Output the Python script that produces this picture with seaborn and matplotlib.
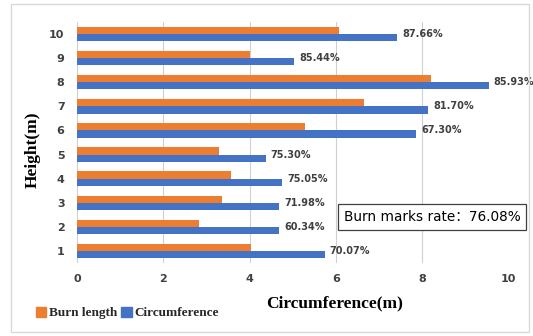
import matplotlib
matplotlib.use("Agg")
import matplotlib.pyplot as plt
import matplotlib.patches as mpatches
import seaborn as sns
import pandas as pd

heights = ["10", "9", "8", "7", "6", "5", "4", "3", "2", "1"]
burn_length = [6.07, 4.02, 8.21, 6.65, 5.29, 3.29, 3.57, 3.37, 2.82, 4.03]
circumference = [7.42, 5.03, 9.54, 8.14, 7.86, 4.37, 4.75, 4.69, 4.69, 5.74]
rates = ["87.66%", "85.44%", "85.93%", "81.70%", "67.30%", "75.30%", "75.05%", "71.98%", "60.34%", "70.07%"]
series = ["Burn length", "Circumference"]
colors = ["#ED7D31", "#4472C4"]
x_ticks = [0, 2, 4, 6, 8, 10]
overall = "Burn marks rate\uff1a76.08%"

df = pd.DataFrame({
    "Height": heights * 2,
    "Value": burn_length + circumference,
    "Series": [series[0]] * len(heights) + [series[1]] * len(heights),
})

sns.set_theme(style="white")
fig = plt.figure(figsize=(5.33, 3.36), dpi=100)
ax = fig.add_axes([77 / 533, (336 - 263) / 336, 431.5 / 533, 241 / 336])

sns.barplot(data=df, y="Height", x="Value", hue="Series", order=heights,
            hue_order=series, palette=colors, orient="h", width=0.6,
            ax=ax, saturation=1, edgecolor="none")

ax.set_xlim(0, 10)
ax.set_xticks(x_ticks)
ax.grid(axis="x", color="#D0D0D0", linewidth=0.8)
ax.set_axisbelow(True)
for s in ax.spines.values():
    s.set_visible(False)
ax.tick_params(axis="both", length=0, labelsize=8, colors="#404040")
for lab in ax.get_xticklabels() + ax.get_yticklabels():
    lab.set_fontweight("bold")
ax.tick_params(axis="y", pad=9)
ax.tick_params(axis="x", pad=8)

ax.set_ylabel("Height(m)", fontfamily="Liberation Serif", fontweight="bold",
              fontsize=12.5, color="#000000")
ax.yaxis.set_label_coords(-0.085, 0.47)
ax.set_xlabel("Circumference(m)", fontfamily="Liberation Serif", fontweight="bold",
              fontsize=12.5, color="#000000")
ax.xaxis.set_label_coords((335 - 77) / 431.5, -0.135)

for i, (v, r) in enumerate(zip(circumference, rates)):
    ax.text(v + 0.12, i, r, va="center", ha="left", fontsize=7,
            fontweight="bold", color="#404040")

leg = ax.get_legend()
if leg is not None:
    leg.remove()
handles = [mpatches.Patch(color=c) for c in colors]
fig.legend(handles, series, loc="center left", bbox_to_anchor=(24 / 533, 1 - 313 / 336),
           ncol=2, frameon=False, handlelength=0.8, handleheight=0.8,
           handletextpad=0.2, columnspacing=0.3,
           prop={"family": "Liberation Serif", "weight": "bold", "size": 9.5})

fig.text(432 / 533, 1 - 217 / 336, overall, ha="center", va="center",
         fontsize=9.8, color="#000000", family=["DejaVu Sans", "Noto Sans CJK SC"],
         bbox=dict(boxstyle="square,pad=0.42", facecolor="white", edgecolor="#404040", linewidth=0.9))

fig.patches.append(mpatches.Rectangle((11 / 533, 4 / 336), 518 / 533, 328 / 336,
                                      transform=fig.transFigure, fill=False,
                                      edgecolor="#D9D9D9", linewidth=1))

fig.savefig("out.png", dpi=100)
